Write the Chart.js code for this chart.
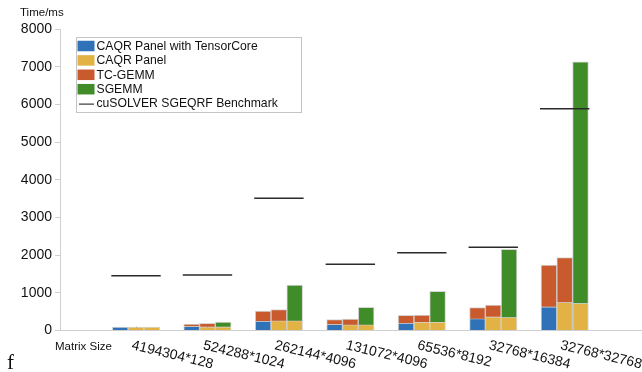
<!DOCTYPE html>
<html>
<head>
<meta charset="utf-8">
<script src="https://cdn.jsdelivr.net/npm/chart.js@4.4.1/dist/chart.umd.min.js"></script>
<style>
	html, body { margin: 0; padding: 0; background: #fff; }
	#wrap { width: 642px; height: 372px; }
</style>
</head>
<body>
<div id="wrap"><canvas id="myChart" width="642" height="372"></canvas></div>
<script>
/*
 * VARIABLES
 */
	var categories = ['4194304*128', '524288*1024', '262144*4096', '131072*4096', '65536*8192', '32768*16384', '32768*32768'];
	var positions = [1, 2, 3, 4, 5, 6, 7];

	/* bar 1 - panel with TensorCore + TC-GEMM */
	var panelTC = [92, 110, 252, 164, 199, 314, 630];
	var tcGemmTC = [0, 62, 265, 123, 204, 291, 1108];
	/* bar 2 - panel + TC-GEMM */
	var panelTG = [90, 100, 260, 155, 225, 366, 748];
	var tcGemmTG = [0, 90, 292, 150, 186, 311, 1184];
	/* bar 3 - panel + SGEMM */
	var panelSG = [90, 100, 260, 155, 225, 350, 722];
	var sgemm = [0, 125, 947, 460, 815, 1804, 6410];
	/* cuSOLVER benchmark */
	var benchmark = [1455, 1473, 3508, 1756, 2065, 2207, 5885];

	var legendLabels = ['CAQR Panel with TensorCore', 'CAQR Panel', 'TC-GEMM', 'SGEMM', 'cuSOLVER SGEQRF Benchmark'];
	var yMin = 0, yMax = 8000, yStep = 1000;

	var BLUE = '#2f72b8', YELLOW = '#e3b245', ORANGE = '#c95a2e', GREEN = '#3f8c29';
	var legendColors = [BLUE, YELLOW, ORANGE, GREEN, null];
	var FONT = '"Liberation Sans", Arial, Helvetica, sans-serif';
	var BAR = 15.8;

	function pts(values) {
		return positions.map(function(p, i) { return { x: p, y: values[i] }; });
	}

	function barSet(label, values, color, stack) {
		return {
			label: label,
			data: pts(values),
			backgroundColor: color,
			borderColor: 'rgba(0,0,0,0.16)',
			borderWidth: 1,
			stack: stack,
			barThickness: BAR
		};
	}

/*
 * EXTRA DRAWING - benchmark lines, labels, legend
 */
	var extras = {
		id: 'extras',
		beforeDatasetsDraw: function(chart) {
			var ctx = chart.ctx, x = chart.scales.x, y = chart.scales.y;
			ctx.save();
			ctx.strokeStyle = '#cfcfcf';
			ctx.lineWidth = 1;
			positions.forEach(function(p) {
				var px = Math.round(x.getPixelForValue(p)) + 0.5;
				ctx.beginPath();
				ctx.moveTo(px, y.getPixelForValue(0));
				ctx.lineTo(px, y.getPixelForValue(0) - 4);
				ctx.stroke();
			});
			ctx.restore();
		},
		afterDatasetsDraw: function(chart) {
			var ctx = chart.ctx, x = chart.scales.x, y = chart.scales.y;
			ctx.save();
			ctx.strokeStyle = '#2a2a2a';
			ctx.lineWidth = 1.5;
			benchmark.forEach(function(v, i) {
				var cx = x.getPixelForValue(positions[i]);
				var py = y.getPixelForValue(v);
				ctx.beginPath();
				ctx.moveTo(cx - 1.5 * BAR - 1, py);
				ctx.lineTo(cx + 1.5 * BAR + 1, py);
				ctx.stroke();
			});
			ctx.restore();
		},
		afterDraw: function(chart) {
			var ctx = chart.ctx, x = chart.scales.x;
			ctx.save();
			ctx.fillStyle = '#111';

			/* axis titles */
			ctx.font = '11.5px ' + FONT;
			ctx.textAlign = 'left';
			ctx.textBaseline = 'alphabetic';
			ctx.fillText('Time/ms', 20, 16);
			ctx.fillText('Matrix Size', 55, 350);

			/* slanted category labels */
			ctx.font = '14px ' + FONT;
			categories.forEach(function(c, i) {
				var cx = x.getPixelForValue(positions[i]);
				ctx.save();
				ctx.translate(cx - 5, 349);
				ctx.rotate(13.5 * Math.PI / 180);
				ctx.fillText(c, 0, 0);
				ctx.restore();
			});

			/* stray glyph */
			ctx.font = '21px "Liberation Serif", "Times New Roman", serif';
			ctx.fillText('f', 7, 369);

			/* legend */
			ctx.fillStyle = '#fff';
			ctx.strokeStyle = '#c4c4c4';
			ctx.lineWidth = 1;
			ctx.fillRect(76.5, 37.5, 225, 75);
			ctx.strokeRect(76.5, 37.5, 225, 75);
			ctx.font = '12.2px ' + FONT;
			ctx.textBaseline = 'middle';
			legendLabels.forEach(function(lbl, i) {
				var ry = 46 + i * 14.4;
				if (legendColors[i]) {
					ctx.fillStyle = legendColors[i];
					ctx.fillRect(77.5, ry - 5.25, 17, 10.5);
				} else {
					ctx.strokeStyle = '#111';
					ctx.beginPath();
					ctx.moveTo(79, ry + 0.5);
					ctx.lineTo(94, ry + 0.5);
					ctx.stroke();
				}
				ctx.fillStyle = '#111';
				ctx.fillText(lbl, 96.5, ry + 0.5);
			});
			ctx.restore();
		}
	};

/*
 * CHART
 */
	var myChart = new Chart(document.getElementById('myChart'), {
		type: 'bar',
		data: {
			datasets: [
				barSet('CAQR Panel with TensorCore', panelTC, BLUE, 'tc'),
				barSet('TC-GEMM', tcGemmTC, ORANGE, 'tc'),
				barSet('CAQR Panel', panelTG, YELLOW, 'tg'),
				barSet('TC-GEMM', tcGemmTG, ORANGE, 'tg'),
				barSet('CAQR Panel', panelSG, YELLOW, 'sg'),
				barSet('SGEMM', sgemm, GREEN, 'sg')
			]
		},
		options: {
			responsive: false,
			animation: false,
			layout: { padding: { top: 29, left: 0, right: 0, bottom: 0 } },
			plugins: {
				legend: { display: false },
				tooltip: { enabled: false }
			},
			scales: {
				x: {
					type: 'linear',
					min: -0.064,
					max: 8.082,
					offset: false,
					grid: { display: false },
					ticks: { display: false },
					border: { display: true, color: '#cfcfcf', width: 1 },
					afterFit: function(s) { s.height = 41.5; }
				},
				y: {
					stacked: true,
					min: yMin,
					max: yMax,
					ticks: {
						stepSize: yStep,
						color: '#111',
						padding: 3,
						font: { family: FONT, size: 14 },
						callback: function(value) { return String(value); }
					},
					grid: { drawOnChartArea: false, tickLength: 5, color: '#cfcfcf' },
					border: { color: '#cfcfcf' },
					afterFit: function(s) { s.width = 60; }
				}
			}
		},
		plugins: [extras]
	});
</script>
</body>
</html>
